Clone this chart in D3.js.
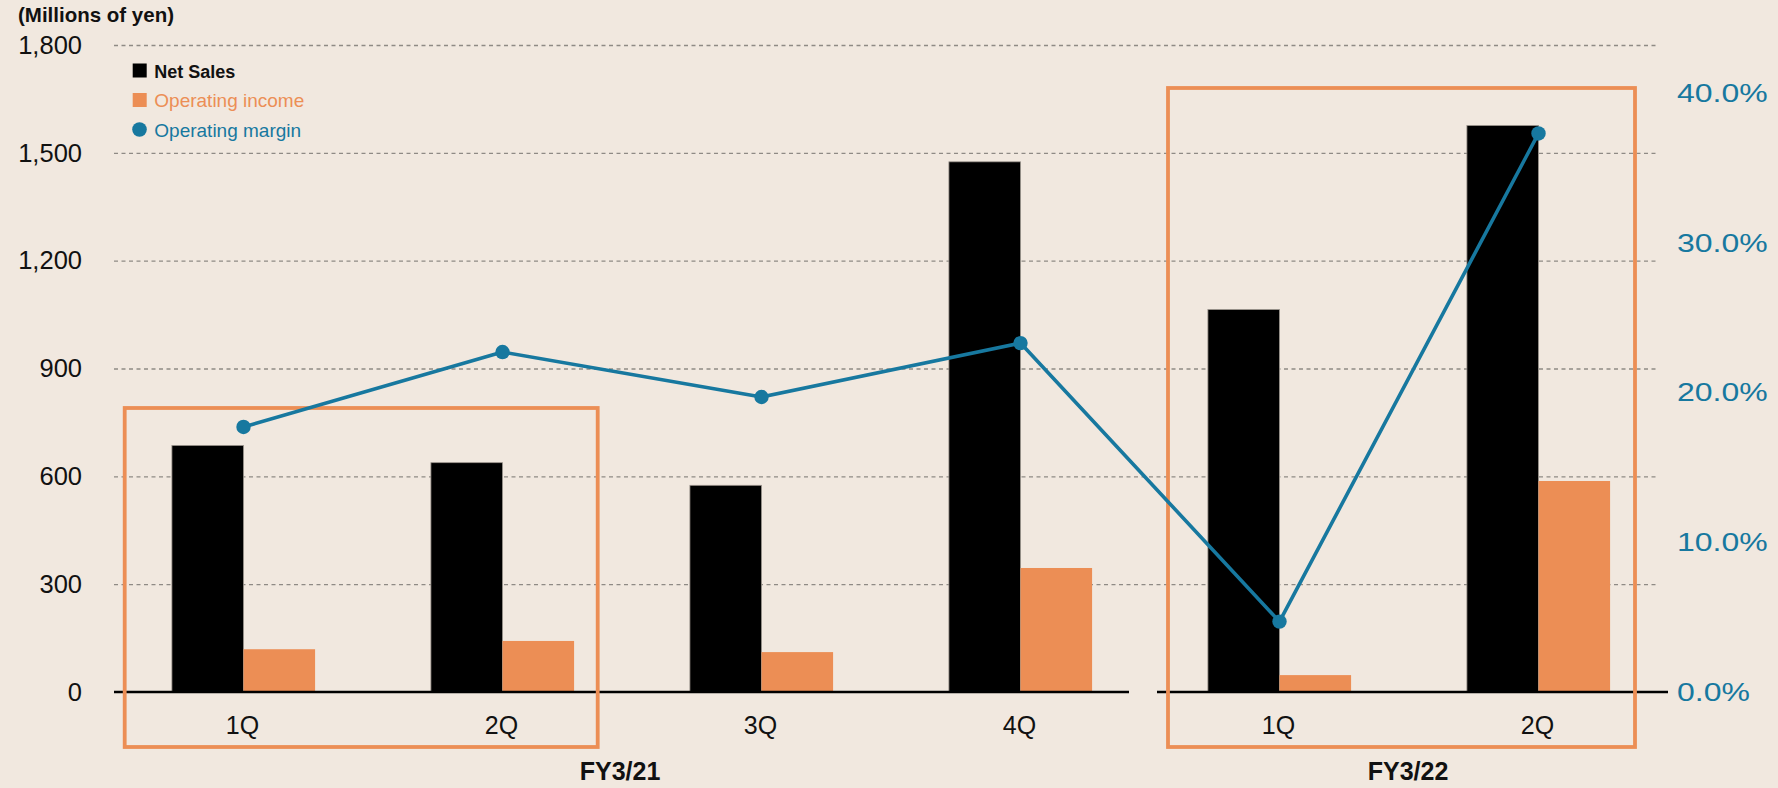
<!DOCTYPE html>
<html><head><meta charset="utf-8">
<script src="https://cdn.jsdelivr.net/npm/d3@7"></script>
<style>
html,body{margin:0;padding:0;background:#F1E8DF;}
svg{display:block;font-family:"Liberation Sans",Arial,Helvetica,sans-serif;}
</style>
</head><body><svg id="chart" width="1778" height="788"></svg>
<script>
// ---- data ----
const categories = ["1Q","2Q","3Q","4Q","1Q","2Q"];
const fiscalYears = ["FY3/21","FY3/22"];
const fiscalGroups = [[0,1,2,3],[4,5]];
const netSales = [686, 638, 575, 1475, 1064, 1576];
const operatingIncome = [119, 142, 111, 345, 47, 587];
const operatingMargin = [17.7, 22.7, 19.7, 23.3, 4.7, 37.3];
const leftTicks = [0, 300, 600, 900, 1200, 1500, 1800];
const rightTicks = [0, 10, 20, 30, 40];
const seriesNames = ["Net Sales", "Operating income", "Operating margin"];
const unitLabel = "(Millions of yen)";

// ---- style ----
const C_BLACK = "#000000", C_ORANGE = "#EC8E55", C_BLUE = "#17789F", C_GRID = "#8f8a85";

const svg = d3.select("#chart");
svg.append("rect").attr("width",1778).attr("height",788).attr("fill","#F1E8DF");

const idx = d3.range(categories.length);
const x = d3.scaleBand().domain(idx).range([114, 1668]).padding(0);
const x1 = d3.scaleBand().domain(["sales","income"]).range([0, x.bandwidth()]).paddingInner(0).paddingOuter(0.809);
const yL = d3.scaleLinear().domain([0, 1800]).range([692, 45]);
const yR = d3.scaleLinear().domain([0, 40]).range([692, 93]);

// gridlines
const gridEnd = x.range()[1] - 10;
const grid = svg.append("g").attr("transform", `translate(${x.range()[0]},0)`)
  .call(d3.axisLeft(yL).tickValues(leftTicks.filter(d => d > 0)).tickSize(-(gridEnd - x.range()[0])).tickFormat(""));
grid.select(".domain").remove();
grid.selectAll("line").attr("stroke", C_GRID).attr("stroke-width", 1.3).attr("stroke-dasharray", "4,3.5");

// left axis labels
const axL = svg.append("g").attr("transform", "translate(90,0)")
  .call(d3.axisLeft(yL).tickValues(leftTicks).tickSize(0).tickPadding(8).tickFormat(d3.format(",")));
axL.select(".domain").remove();
axL.selectAll("text").attr("font-size", 25.5).attr("fill", "#111").attr("font-family", "Liberation Sans, Arial, sans-serif");

// right axis labels
const axR = svg.append("g").attr("transform", "translate(1677,0)")
  .call(d3.axisRight(yR).tickValues(rightTicks).tickSize(0).tickPadding(0).tickFormat(d => d.toFixed(1) + "%"));
axR.select(".domain").remove();
axR.selectAll("text").attr("font-size", 26).attr("fill", C_BLUE).attr("font-family", "Liberation Sans, Arial, sans-serif")
  .attr("transform", "scale(1.23,1)");

// bars
const bars = svg.append("g");
bars.selectAll("rect.sales").data(idx).join("rect").attr("class","sales")
  .attr("x", i => x(i) + x1("sales")).attr("width", x1.bandwidth())
  .attr("y", i => yL(netSales[i])).attr("height", i => yL(0) - yL(netSales[i]))
  .attr("fill", C_BLACK).attr("stroke", "#9b948d").attr("stroke-width", 0.8);
bars.selectAll("rect.income").data(idx).join("rect").attr("class","income")
  .attr("x", i => x(i) + x1("income")).attr("width", x1.bandwidth())
  .attr("y", i => yL(operatingIncome[i])).attr("height", i => yL(0) - yL(operatingIncome[i]))
  .attr("fill", C_ORANGE);

// baseline segments
const bandEnd = i => x(i) + x.bandwidth();
const baseSegs = [[x.range()[0], bandEnd(3) - 21], [bandEnd(3) + 7, bandEnd(5)]];
svg.append("g").selectAll("line").data(baseSegs).join("line")
  .attr("x1", d => d[0]).attr("x2", d => d[1]).attr("y1", yL(0)).attr("y2", yL(0))
  .attr("stroke", "#000").attr("stroke-width", 2.6);

// highlight boxes
const boxes = [
  {x0: x(0) + 10.7, x1: bandEnd(1) - 34.3, top: 408, bottom: 747},
  {x0: x(4) + 18, x1: bandEnd(5) - 33, top: 88, bottom: 747}
];
svg.append("g").selectAll("rect").data(boxes).join("rect")
  .attr("x", d => d.x0).attr("y", d => d.top).attr("width", d => d.x1 - d.x0).attr("height", d => d.bottom - d.top)
  .attr("fill", "none").attr("stroke", C_ORANGE).attr("stroke-width", 3.8);

// margin line
const cx = i => x(i) + x1("income");
svg.append("path").datum(idx)
  .attr("d", d3.line().x(i => cx(i)).y(i => yR(operatingMargin[i])))
  .attr("fill", "none").attr("stroke", C_BLUE).attr("stroke-width", 3.6).attr("stroke-linejoin","round");
svg.append("g").selectAll("circle").data(idx).join("circle")
  .attr("cx", i => cx(i)).attr("cy", i => yR(operatingMargin[i])).attr("r", 7.2).attr("fill", C_BLUE);

// category labels
svg.append("g").selectAll("text").data(idx).join("text")
  .attr("x", i => x(i) + x.bandwidth()/2 - 1).attr("y", 734).attr("text-anchor","middle")
  .attr("font-size", 25).attr("fill", "#111").text(i => categories[i]);

// fiscal year labels
const fyOffsets = [-12, -1];
svg.append("g").selectAll("text").data(fiscalGroups).join("text")
  .attr("x", (g, k) => (x(g[0]) + bandEnd(g[g.length-1])) / 2 + fyOffsets[k])
  .attr("y", 780).attr("text-anchor","middle").attr("font-size", 25).attr("font-weight","bold")
  .attr("fill", "#111").text((g, k) => fiscalYears[k]);

// unit label
svg.append("text").attr("x", 18).attr("y", 21.5).attr("font-size", 20.5).attr("font-weight","bold")
  .attr("fill", "#111").text(unitLabel);

// legend
const leg = svg.append("g");
const legColors = [C_BLACK, C_ORANGE, C_BLUE];
const legY = [70.5, 100, 129.5];
seriesNames.forEach((name, k) => {
  if (k < 2) {
    leg.append("rect").attr("x", 132.7).attr("y", legY[k] - 7).attr("width", 14).attr("height", 14).attr("fill", legColors[k]);
  } else {
    leg.append("circle").attr("cx", 139.5).attr("cy", legY[k]).attr("r", 7.3).attr("fill", legColors[k]);
  }
  leg.append("text").attr("x", 154.3).attr("y", legY[k] + 7)
    .attr("font-size", k === 0 ? 18 : 19).attr("font-weight", k === 0 ? "bold" : "normal")
    .attr("fill", k === 0 ? "#111" : legColors[k]).text(name);
});
</script>
</body></html>
